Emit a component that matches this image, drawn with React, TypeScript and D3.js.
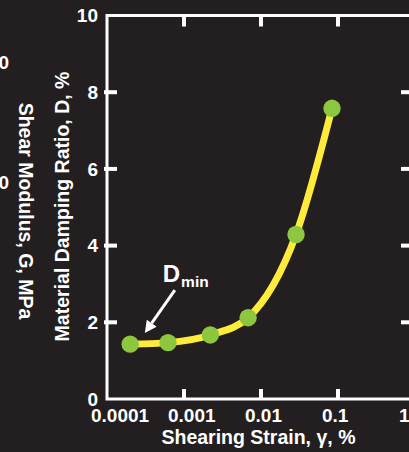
import * as d3 from 'd3'
import { useEffect, useRef } from 'react'

// measured points: shearing strain (%) vs material damping ratio (%)
const strain = [0.0002, 0.00062, 0.0022, 0.0068, 0.0285, 0.0836]
const damping = [1.43, 1.47, 1.67, 2.12, 4.29, 7.58]

const xTicks = [0.0001, 0.001, 0.01, 0.1, 1]
const xTickLabels = ['0.0001', '0.001', '0.01', '0.1', '1']
const yTicks = [0, 2, 4, 6, 8, 10]

// tick labels of the neighbouring (cut off) shear modulus panel
const gTicks = [60, 40]

const dminLabel = { x: 0.00053, y: 3.05 }
const dminArrow = { x1: 0.00076, y1: 2.84, x2: 0.00031, y2: 1.72 }

const W = 409
const H = 452
const BG = '#231f20'
const FONT = '"Liberation Sans", Arial, Helvetica, sans-serif'

const App = () => {
  const ref = useRef<HTMLDivElement>(null)

  useEffect(() => {
    if (!ref.current) return
    document.body.style.margin = '0'
    document.body.style.background = BG

    d3.select(ref.current).select('svg').remove()

    const svg = d3
      .select(ref.current)
      .append('svg')
      .attr('width', W)
      .attr('height', H)
      .style('display', 'block')

    svg.append('rect').attr('width', W).attr('height', H).attr('fill', BG)

    const x = d3.scaleLog().domain([0.0001, 1]).range([107, 415])
    const y = d3.scaleLinear().domain([0, 10]).range([399, 15.5])
    const g = d3.scaleLinear().domain([0, 60]).range([422, 62])

    const x0 = x.range()[0]
    const x1 = x.range()[1]
    const y0 = y.range()[0]
    const y1 = y.range()[1]

    // frame
    svg
      .append('rect')
      .attr('x', x0)
      .attr('y', y1)
      .attr('width', x1 - x0)
      .attr('height', y0 - y1)
      .attr('fill', 'none')
      .attr('stroke', '#fff')
      .attr('stroke-width', 3)

    // y ticks (left + right, inward)
    svg
      .selectAll('.ytickL')
      .data(yTicks.slice(1, -1))
      .enter()
      .append('line')
      .attr('x1', x0 - 3)
      .attr('x2', x0 + 10)
      .attr('y1', (d) => y(d))
      .attr('y2', (d) => y(d))
      .attr('stroke', '#fff')
      .attr('stroke-width', 4)

    svg
      .selectAll('.ytickR')
      .data(yTicks.slice(1, -1))
      .enter()
      .append('line')
      .attr('x1', x1 - 14)
      .attr('x2', x1)
      .attr('y1', (d) => y(d))
      .attr('y2', (d) => y(d))
      .attr('stroke', '#fff')
      .attr('stroke-width', 4)

    // x ticks (top + bottom, inward)
    svg
      .selectAll('.xtickT')
      .data(xTicks.slice(1, -1))
      .enter()
      .append('line')
      .attr('x1', (d) => x(d))
      .attr('x2', (d) => x(d))
      .attr('y1', y1)
      .attr('y2', y1 + 11)
      .attr('stroke', '#fff')
      .attr('stroke-width', 4)

    svg
      .selectAll('.xtickB')
      .data(xTicks.slice(1, -1))
      .enter()
      .append('line')
      .attr('x1', (d) => x(d))
      .attr('x2', (d) => x(d))
      .attr('y1', y0)
      .attr('y2', y0 - 10)
      .attr('stroke', '#fff')
      .attr('stroke-width', 4)

    // y tick labels
    svg
      .selectAll('.ylab')
      .data(yTicks)
      .enter()
      .append('text')
      .attr('x', x0 - 9)
      .attr('y', (d) => y(d) + 6.8)
      .attr('text-anchor', 'end')
      .attr('fill', '#fff')
      .style('font-family', FONT)
      .style('font-weight', 'bold')
      .style('font-size', '19px')
      .text((d) => `${d}`)

    // x tick labels
    svg
      .selectAll('.xlab')
      .data(xTicks)
      .enter()
      .append('text')
      .attr('x', (d) => x(d) - 16)
      .attr('y', 422)
      .attr('text-anchor', 'start')
      .attr('fill', '#fff')
      .style('font-family', FONT)
      .style('font-weight', 'bold')
      .style('font-size', '19px')
      .text((d, i) => xTickLabels[i])

    // axis titles
    svg
      .append('text')
      .attr('x', 258.5)
      .attr('y', 444)
      .attr('text-anchor', 'middle')
      .attr('fill', '#fff')
      .style('font-family', FONT)
      .style('font-weight', 'bold')
      .style('font-size', '19.5px')
      .text('Shearing Strain, γ, %')

    svg
      .append('text')
      .attr('transform', 'translate(69,206.5) rotate(-90)')
      .attr('text-anchor', 'middle')
      .attr('fill', '#fff')
      .style('font-family', FONT)
      .style('font-weight', 'bold')
      .style('font-size', '19.5px')
      .text('Material Damping Ratio, D, %')

    svg
      .append('text')
      .attr('transform', 'translate(19,211) rotate(90)')
      .attr('text-anchor', 'middle')
      .attr('fill', '#fff')
      .style('font-family', FONT)
      .style('font-weight', 'bold')
      .style('font-size', '19.5px')
      .text('Shear Modulus, G, MPa')

    svg
      .selectAll('.glab')
      .data(gTicks)
      .enter()
      .append('text')
      .attr('x', 9)
      .attr('y', (d) => g(d) + 6.8)
      .attr('text-anchor', 'end')
      .attr('fill', '#fff')
      .style('font-family', FONT)
      .style('font-weight', 'bold')
      .style('font-size', '19px')
      .text((d) => `${d}`)

    // curve
    const pts = strain.map((s, i) => [s, damping[i]] as [number, number])
    const line = d3
      .line<[number, number]>()
      .x((d) => x(d[0]))
      .y((d) => y(d[1]))
      .curve(d3.curveMonotoneX)

    svg
      .append('path')
      .datum(pts)
      .attr('d', line)
      .attr('fill', 'none')
      .attr('stroke', '#ffec3a')
      .attr('stroke-width', 7)
      .attr('stroke-linecap', 'round')

    svg
      .selectAll('.dot')
      .data(pts)
      .enter()
      .append('circle')
      .attr('cx', (d) => x(d[0]))
      .attr('cy', (d) => y(d[1]))
      .attr('r', 8.7)
      .attr('fill', '#8dc63f')

    // D_min annotation
    const ax1 = x(dminArrow.x1)
    const ay1 = y(dminArrow.y1)
    const ax2 = x(dminArrow.x2)
    const ay2 = y(dminArrow.y2)
    const ang = Math.atan2(ay2 - ay1, ax2 - ax1)
    const headLen = 12
    const headW = 6
    const bx = ax2 - headLen * Math.cos(ang)
    const by = ay2 - headLen * Math.sin(ang)

    svg
      .append('line')
      .attr('x1', ax1)
      .attr('y1', ay1)
      .attr('x2', bx)
      .attr('y2', by)
      .attr('stroke', '#fff')
      .attr('stroke-width', 3)

    svg
      .append('polygon')
      .attr(
        'points',
        [
          [ax2, ay2],
          [bx + headW * Math.sin(ang), by - headW * Math.cos(ang)],
          [bx - headW * Math.sin(ang), by + headW * Math.cos(ang)],
        ]
          .map((p) => p.join(','))
          .join(' ')
      )
      .attr('fill', '#fff')

    const lab = svg
      .append('text')
      .attr('x', x(dminLabel.x))
      .attr('y', y(dminLabel.y))
      .attr('fill', '#fff')
      .style('font-family', FONT)
      .style('font-weight', 'bold')
      .style('font-size', '24px')
    lab.append('tspan').text('D')
    lab
      .append('tspan')
      .attr('dy', 5)
      .attr('dx', 1)
      .style('font-size', '15.5px')
      .text('min')
  }, [])

  return <div ref={ref} style={{ position: 'absolute', left: 0, top: 0 }} />
}

export default App
